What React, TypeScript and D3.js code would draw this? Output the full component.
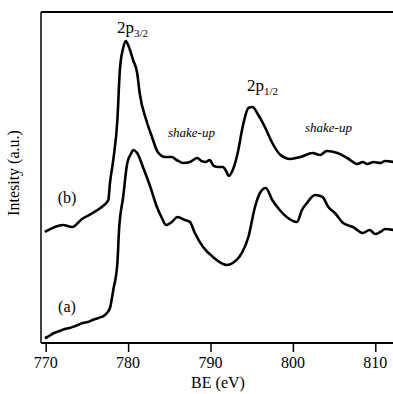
import { useRef, useEffect } from "react";
import * as d3 from "d3";

// binding energy (eV) and intensity (a.u.)
const beB = [769.9, 772.1, 773.2, 774.4, 775.7, 776.8, 777.6, 777.8, 778.2, 778.7, 779.0, 779.4, 779.7, 780.1, 780.6, 781.1, 781.4, 782.2, 782.9, 783.6, 784.5, 785.3, 785.9, 786.7, 787.5, 788.4, 788.9, 789.4, 789.9, 790.4, 791.0, 791.5, 791.9, 792.2, 792.7, 793.3, 793.9, 794.6, 795.1, 795.8, 796.6, 797.5, 798.5, 799.7, 800.9, 802.4, 803.3, 804.1, 805.4, 806.6, 807.8, 808.5, 809.0, 809.8, 810.6, 811.2, 812.2];
const intB = [111, 118, 116, 124, 130, 136, 143, 160, 183, 223, 273, 295, 302, 296, 283, 270, 250, 223, 206, 191, 186, 186, 183, 180, 181, 185, 182, 181, 183, 177, 176, 176, 172, 167, 173, 190, 216, 235, 236, 228, 216, 200, 188, 184, 186, 190, 188, 192, 190, 185, 179, 181, 179, 181, 180, 182, 181];

const beA = [769.9, 770.2, 771.0, 771.7, 772.3, 772.9, 773.6, 774.5, 775.1, 775.7, 776.4, 777.2, 777.8, 778.2, 778.7, 778.9, 779.4, 779.9, 780.4, 780.6, 781.1, 781.8, 782.7, 783.5, 784.1, 784.6, 785.3, 786.0, 786.9, 787.5, 788.1, 789.1, 790.3, 792.0, 792.7, 793.8, 794.6, 795.4, 796.0, 796.7, 797.5, 798.4, 799.4, 800.5, 801.1, 801.7, 802.7, 803.6, 804.3, 805.1, 806.1, 807.3, 808.5, 809.3, 810.0, 810.6, 811.2, 812.2];
const intA = [5, 6, 10, 12, 14, 15, 17, 20, 21, 23, 25, 28, 35, 53, 80, 113, 146, 180, 190, 193, 190, 176, 156, 136, 125, 118, 121, 126, 123, 121, 110, 96, 86, 78, 80, 90, 106, 136, 150, 155, 143, 133, 125, 121, 133, 140, 148, 146, 136, 130, 120, 116, 110, 113, 109, 111, 114, 113];

const majorTicks = [770, 780, 790, 800, 810];

export default function App() {
  const svgRef = useRef<SVGSVGElement | null>(null);
  const width = 393;
  const height = 394;

  useEffect(() => {
    if (!svgRef.current) return;
    const svg = d3.select(svgRef.current);
    svg.selectAll("*").remove();

    const left = 41, top = 12, right = 393, bottom = 343;
    const x = d3.scaleLinear().domain([770, 810]).range([45.7, 375.3]);
    const y = d3.scaleLinear().domain([0, 331]).range([bottom, top]);

    const font = "Liberation Serif, Times New Roman, serif";

    svg.append("defs").append("clipPath").attr("id", "plot")
      .append("rect").attr("x", left).attr("y", top).attr("width", right - left).attr("height", bottom - top);

    const line = d3.line<[number, number]>()
      .x((d) => x(d[0]))
      .y((d) => y(d[1]))
      .curve(d3.curveMonotoneX);

    const series = [
      beB.map((v, i) => [v, intB[i]] as [number, number]),
      beA.map((v, i) => [v, intA[i]] as [number, number]),
    ];

    svg.append("g").attr("clip-path", "url(#plot)")
      .selectAll("path")
      .data(series)
      .enter()
      .append("path")
      .attr("d", (d) => line(d))
      .attr("fill", "none")
      .attr("stroke", "#000")
      .attr("stroke-width", 2.6)
      .attr("stroke-linejoin", "round");

    // frame: left, top, bottom
    svg.append("line").attr("x1", left).attr("x2", left).attr("y1", top).attr("y2", bottom)
      .attr("stroke", "#000").attr("stroke-width", 1.5);
    svg.append("line").attr("x1", left).attr("x2", right).attr("y1", top).attr("y2", top)
      .attr("stroke", "#000").attr("stroke-width", 2);

    // bottom axis with minor ticks every 1 eV
    const minor = d3.range(770, 813, 1).filter((t) => t % 10 !== 0);
    const gx = svg.append("g").attr("transform", `translate(0,${bottom})`);
    gx.call(d3.axisBottom(x).tickValues(minor).tickSize(5).tickFormat(() => ""));
    gx.call(d3.axisBottom(x).tickValues(majorTicks).tickSize(9).tickFormat(() => ""));
    gx.selectAll(".domain").remove();
    gx.selectAll("line").attr("stroke", "#000").attr("stroke-width", 1.5);
    svg.append("line").attr("x1", left).attr("x2", right).attr("y1", bottom).attr("y2", bottom)
      .attr("stroke", "#000").attr("stroke-width", 2);

    svg.append("g").selectAll("text")
      .data(majorTicks)
      .enter()
      .append("text")
      .attr("x", (d) => x(d))
      .attr("y", 368)
      .attr("text-anchor", "middle")
      .attr("font-family", font)
      .attr("font-size", 16)
      .text((d) => d);

    svg.append("text")
      .attr("x", 218).attr("y", 388)
      .attr("text-anchor", "middle")
      .attr("font-family", font).attr("font-size", 16)
      .text("BE (eV)");

    svg.append("text")
      .attr("transform", "translate(19,173) rotate(-90)")
      .attr("text-anchor", "middle")
      .attr("font-family", font).attr("font-size", 16)
      .text("Intesity (a.u.)");

    // peak labels
    const peak = (px: number, py: number, sub: string) => {
      const t = svg.append("text").attr("x", px).attr("y", py)
        .attr("font-family", font).attr("font-size", 17);
      t.append("tspan").text("2p");
      t.append("tspan").attr("font-size", 11).attr("dy", 4).text(sub);
    };
    peak(117, 33, "3/2");
    peak(247, 91, "1/2");

    const italic = (px: number, py: number, s: string) =>
      svg.append("text").attr("x", px).attr("y", py)
        .attr("font-family", font).attr("font-size", 13).attr("font-style", "italic")
        .text(s);
    italic(168, 137, "shake-up");
    italic(305, 132, "shake-up");

    const tag = (px: number, py: number, s: string) =>
      svg.append("text").attr("x", px).attr("y", py)
        .attr("text-anchor", "middle")
        .attr("font-family", font).attr("font-size", 16)
        .text(s);
    tag(67, 203, "(b)");
    tag(67, 312, "(a)");
  }, []);

  return (
    <svg
      ref={svgRef}
      width={width}
      height={height}
      style={{ position: "absolute", left: 0, top: 0, background: "#fff" }}
    />
  );
}
